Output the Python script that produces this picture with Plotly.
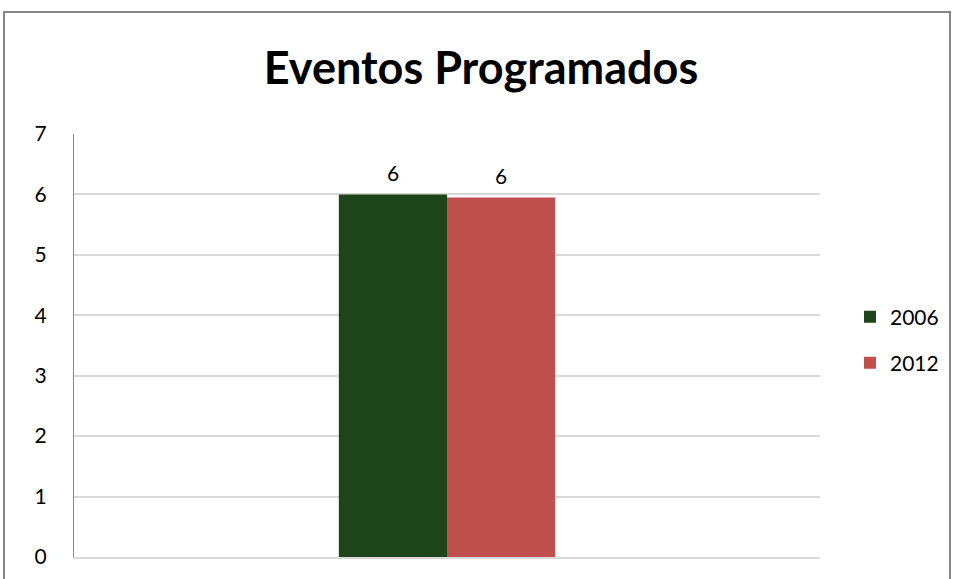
import plotly.graph_objects as go

categories = ["Eventos Programados"]
series_names = ["2006", "2012"]
values_2006 = [6]
values_2012 = [5.95]
y_ticks = [0, 1, 2, 3, 4, 5, 6, 7]

FONT = "Lato, Calibri, 'Open Sans', sans-serif"
colors = {"2006": "#1E4419", "2012": "#C0504D"}

W, H = 953, 579
L, R, T, B = 74, 133, 134, 22
BARGAP = 0.71
plot_w = W - L - R
bar_px = (1 - BARGAP) * plot_w / 2

fig = go.Figure()
fig.add_trace(go.Bar(
    x=categories, y=values_2006, name=series_names[0],
    marker=dict(color=colors["2006"], line=dict(width=0)),
    legend="legend",
))
fig.add_trace(go.Bar(
    x=categories, y=values_2012, name=series_names[1],
    marker=dict(color=colors["2012"], line=dict(width=0)),
    legend="legend2",
))

annotations = []
for i, vals in enumerate([values_2006, values_2012]):
    for cat, v in zip(categories, vals):
        annotations.append(dict(
            x=cat, y=v, xref="x", yref="y", text=f"{v:.0f}", showarrow=False,
            xshift=(i - 0.5) * bar_px, yshift=22, yanchor="middle",
            font=dict(size=21, family=FONT, color="#000000")))

fig.update_layout(
    width=W, height=H,
    margin=dict(l=L, r=R, t=T, b=B, autoexpand=False),
    paper_bgcolor="white", plot_bgcolor="white",
    barmode="group", bargap=BARGAP, bargroupgap=0,
    font=dict(family=FONT, size=21, color="#000000"),
    title=dict(text="<b>Eventos Programados</b>", x=481 / W, xref="container", xanchor="center",
               y=1 - 68 / H, yref="container", yanchor="middle",
               font=dict(size=45, family=FONT, color="#000000")),
    xaxis=dict(showticklabels=False, showgrid=False, zeroline=False,
               showline=True, linecolor="#D9D9D9", linewidth=2, ticks=""),
    yaxis=dict(range=[0, 7], tickvals=y_ticks, showgrid=True, gridcolor="#D9D9D9",
               gridwidth=1.5, zeroline=False, showline=True, linecolor="#868686",
               linewidth=1, ticks="", ticklabelstandoff=22,
               tickfont=dict(size=21, family=FONT, color="#000000")),
    legend=dict(x=850 / W, y=1 - 317 / H, xref="container", yref="container",
                xanchor="left", yanchor="middle", bgcolor="rgba(0,0,0,0)",
                font=dict(size=21, family=FONT), itemwidth=30),
    legend2=dict(x=850 / W, y=1 - 363 / H, xref="container", yref="container",
                 xanchor="left", yanchor="middle", bgcolor="rgba(0,0,0,0)",
                 font=dict(size=21, family=FONT), itemwidth=30),
    showlegend=True,
    annotations=annotations,
    shapes=[dict(type="rect", xref="paper", yref="paper",
                 x0=(4 - L) / plot_w, x1=(950 - L) / plot_w,
                 y0=-0.2, y1=1 + (T - 12) / (H - T - B),
                 line=dict(color="#868686", width=2), fillcolor="rgba(0,0,0,0)", layer="below")],
)

fig.write_html("out.html", config={"displayModeBar": False},
               post_script="document.body.style.margin='0px';")
